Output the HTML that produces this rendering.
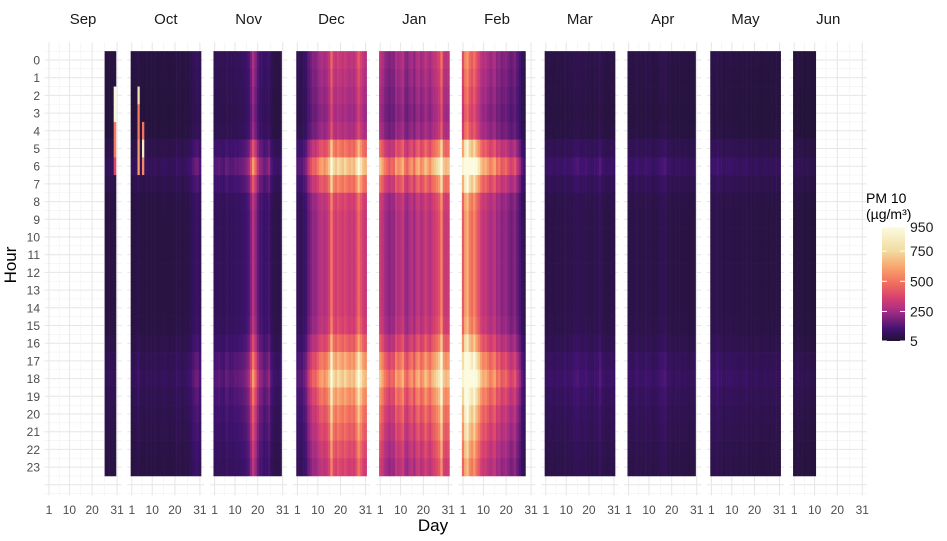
<!DOCTYPE html>
<html><head><meta charset="utf-8">
<style>
html,body{margin:0;padding:0;background:#fff;}
svg{display:block;font-family:"Liberation Sans",Arial,sans-serif;}
</style></head>
<body>
<svg id="chart" width="947" height="541" viewBox="0 0 947 541" xmlns="http://www.w3.org/2000/svg">
  <g id="grid"></g>
  <g id="tiles"></g>
  <g id="axes"></g>
  <text x="16" y="265" font-size="17" fill="#000" text-anchor="middle" transform="rotate(-90 16 265)">Hour</text>
  <text x="433" y="531" font-size="17" fill="#000" text-anchor="middle">Day</text>
  <g>
    <text x="866" y="203" font-size="14" fill="#000">PM 10</text>
    <text x="866" y="219" font-size="14" fill="#000">(µg/m³)</text>
    <defs><linearGradient id="lg" x1="0" y1="1" x2="0" y2="0"></linearGradient></defs>
    <rect x="882" y="227" width="23" height="114" fill="url(#lg)"></rect>
    <g id="legticks"></g>
  </g>
</svg>
<script>
const months = ["Sep","Oct","Nov","Dec","Jan","Feb","Mar","Apr","May","Jun"];
const monthFirstDay = [26,1,1,1,1,1,1,1,1,1];
const sepBase = [45,45,50,45,45];
const octBase = [45,42,52,75,45,42,45,52,45,42,52,45,42,45,56,52,45,42,45,52,63,56,45,52,56,63,75,95,115,125,85];
const novBase = [90,95,105,90,80,115,105,90,95,110,105,115,120,130,145,175,290,430,330,220,160,145,115,130,160,90,70,60,55,70];
const decBase = [90,100,95,120,150,230,280,330,320,370,420,440,400,440,500,750,540,500,560,520,490,540,500,470,500,470,560,700,590,500,470];
const janBase = [500,440,370,340,300,340,320,440,390,420,470,350,320,390,420,340,440,470,390,420,500,440,400,470,500,540,590,800,500,470,490];
const febBase = [640,870,950,760,700,800,670,590,500,440,470,420,370,400,440,340,370,300,320,340,290,250,270,300,220,170,100,70];
const marBase = [55,58,65,58,55,65,58,55,70,65,58,65,75,80,90,75,70,75,80,65,58,65,70,75,100,65,58,55,58,65,55];
const aprBase = [65,58,55,65,70,58,55,65,70,65,58,55,58,65,75,80,90,65,58,55,48,55,58,55,48,55,48,44,48,55];
const mayBase = [58,65,70,75,65,58,55,58,65,58,55,58,55,48,55,58,55,48,44,48,55,48,44,48,55,48,44,48,55,48,44];
const junBase = [36,42,46,42,36,36,42,36,32,32];
const dailyBase = [sepBase,octBase,novBase,decBase,janBase,febBase,marBase,aprBase,mayBase,junBase];
const hourFactor = [0.62,0.58,0.54,0.5,0.55,0.96,1.4,1.0,0.72,0.68,0.68,0.68,0.68,0.68,0.68,0.72,0.9,1.2,1.4,1.16,1.0,0.9,0.8,0.72];
// [monthIndex, day, hourFrom, hourTo, value]
const spikes = [[0,30,2,3,930],[0,30,4,5,520],[0,30,6,6,380],[1,4,2,2,800],[1,4,3,4,520],[1,4,5,6,600],[1,6,4,4,500],[1,6,5,5,850],[1,6,6,6,550]];
const hourLabels = Array.from({length:24},(_,i)=>String(i));
const dayTicks = [1,10,20,31];
const legendTicks = [5,250,500,750,950];

const VMIN=5, VMAX=950;
const stopPos=[0,0.1,0.26,0.38,0.52,0.65,0.79,1];
const stops=["#201331","#3f1270","#a52c85","#d8406f","#f3735d","#f8a670","#f1dba0","#fcfbe0"];
function hex(c){return [1,3,5].map(i=>parseInt(c.substr(i,2),16));}
function color(v){
  let t=Math.max(0,Math.min(1,(v-VMIN)/(VMAX-VMIN)));
  let i=0; while(i<stopPos.length-2 && t>stopPos[i+1]) i++;
  let f=(t-stopPos[i])/(stopPos[i+1]-stopPos[i]);
  let a=hex(stops[i]), b=hex(stops[i+1]);
  return "rgb("+a.map((x,k)=>Math.round(x+(b[k]-x)*f)).join(",")+")";
}
const PX0=49, PSTEP=82.8, DW=2.27, HY0=60, HH=17.7;
function xDay(m,d){return PX0+m*PSTEP+(d-1)*DW;}
function yHour(h){return HY0+h*HH;}
const NS="http://www.w3.org/2000/svg";
function mk(tag,attrs,parent){const e=document.createElementNS(NS,tag);for(const k in attrs)e.setAttribute(k,attrs[k]);parent.appendChild(e);return e;}

const grid=document.getElementById('grid');
const tiles=document.getElementById('tiles');
const axes=document.getElementById('axes');
for(let m=0;m<months.length;m++){
  const left=xDay(m,1)-4.5, right=xDay(m,31)+4.5;
  for(let h=-0.5;h<=24.5;h+=0.5){
    const ln=mk('line',{x1:left,x2:right,y1:yHour(h),y2:yHour(h),stroke:(h%1===0)?"#e6e6e6":"#f1f1f1","stroke-width":(h%1===0)?1:0.6},grid);
    
    
  }
  const xs=[1,5.5,10,15,20,25.5,31];
  xs.forEach((d,i)=>{
    const ln=mk('line',{x1:xDay(m,d),x2:xDay(m,d),y1:yHour(-1),y2:yHour(24.6),stroke:(i%2===0)?"#e6e6e6":"#f1f1f1","stroke-width":(i%2===0)?1:0.6},grid);
    
    
  });
  const st=mk('text',{x:xDay(m,16),y:24,"font-size":15,"text-anchor":"middle",fill:"#1a1a1a"},axes);
  st.textContent=months[m];
  
  
  dayTicks.forEach(d=>{
    const t=mk('text',{x:xDay(m,d),y:514,"font-size":12,"text-anchor":"middle",fill:"#4d4d4d"},axes);
    t.textContent=String(d);
    
    
  });
}
hourLabels.forEach((lab,h)=>{
  const t=mk('text',{x:40,y:yHour(h)+4.5,"font-size":12,"text-anchor":"end",fill:"#4d4d4d"},axes);
  t.textContent=lab;
  
  
});
for(let m=0;m<months.length;m++){
  const base=dailyBase[m];
  for(let i=0;i<base.length;i++){
    const d=monthFirstDay[m]+i;
    for(let h=0;h<24;h++){
      let v=base[i]*hourFactor[h];
      spikes.forEach(s=>{if(s[0]===m&&s[1]===d&&h>=s[2]&&h<=s[3])v=s[4];});
      const r=mk('rect',{x:(xDay(m,d)-DW/2).toFixed(2),y:(yHour(h)-HH/2).toFixed(2),width:(DW+0.3).toFixed(2),height:(HH+0.3).toFixed(2),fill:color(v)},tiles);
      
      
    }
  }
}
const lg=document.getElementById('lg');
stops.forEach((c,i)=>mk('stop',{offset:stopPos[i],"stop-color":c},lg));
const lt=document.getElementById('legticks');
legendTicks.forEach(v=>{
  const y=341-(v-VMIN)/(VMAX-VMIN)*114;
  mk('line',{x1:882,x2:887,y1:y,y2:y,stroke:"#fff","stroke-width":1},lt);
  mk('line',{x1:900,x2:905,y1:y,y2:y,stroke:"#fff","stroke-width":1},lt);
  const t=mk('text',{x:910,y:y+5,"font-size":14,fill:"#1a1a1a"},lt);
  t.textContent=String(v);
  
  
});
</script>
</body></html>
